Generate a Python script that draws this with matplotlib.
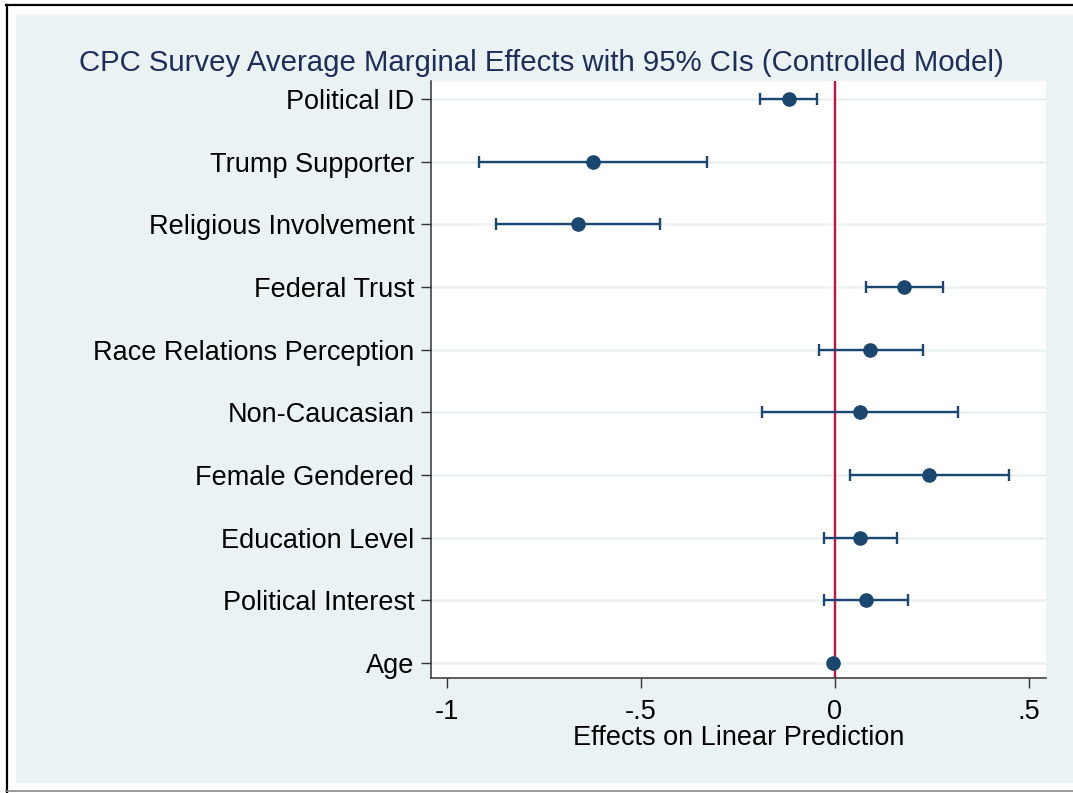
import matplotlib
matplotlib.use('Agg')
import matplotlib.pyplot as plt
from matplotlib.patches import Rectangle
from matplotlib.lines import Line2D

plt.rcParams['font.family'] = ['Liberation Sans', 'DejaVu Sans']

# data (top to bottom)
labels = ['Political ID', 'Trump Supporter', 'Religious Involvement', 'Federal Trust',
          'Race Relations Perception', 'Non-Caucasian', 'Female Gendered',
          'Education Level', 'Political Interest', 'Age']
effects = [-0.119, -0.624, -0.662, 0.178, 0.090, 0.064, 0.243, 0.066, 0.079, -0.005]
ci_low = [-0.192, -0.917, -0.874, 0.080, -0.042, -0.188, 0.039, -0.028, -0.028, -0.008]
ci_high = [-0.045, -0.329, -0.451, 0.279, 0.227, 0.316, 0.449, 0.161, 0.189, -0.002]
xticks = [-1, -0.5, 0, 0.5]
xticklabels = ['-1', '-.5', '0', '.5']

bg = '#EAF2F3'
navy = '#1A476F'
W, H = 1073, 793

fig = plt.figure(figsize=(W / 100, H / 100), dpi=100)
fig.patch.set_facecolor('white')

# stata style frame
fig.add_artist(Rectangle((16 / W, 1 - 783 / H), (W - 16) / W, (783 - 15) / H,
                         transform=fig.transFigure, facecolor=bg, edgecolor='none', zorder=-5))
fig.add_artist(Line2D([6.5 / W, 6.5 / W], [0, 1 - 5 / H], transform=fig.transFigure,
                      color='black', lw=1.6, zorder=-4))
fig.add_artist(Line2D([6 / W, 1], [1 - 5 / H, 1 - 5 / H], transform=fig.transFigure,
                      color='black', lw=1.6, zorder=-4))
fig.add_artist(Line2D([6 / W, 1], [1 - 790.5 / H, 1 - 790.5 / H], transform=fig.transFigure,
                      color='#888888', lw=1.2, zorder=-4))

ax = fig.add_axes([431 / W, 1 - 678 / H, (1046 - 431) / W, (678 - 81) / H])
ax.set_facecolor('white')

n = len(labels)
ypos = [n - i for i in range(n)]
for y in ypos:
    ax.axhline(y, color=bg, lw=1.8, zorder=1)

ax.axvline(0, color='#C8103A', lw=1.7, zorder=2)

xerr = [[e - l for e, l in zip(effects, ci_low)], [h - e for e, h in zip(effects, ci_high)]]
ax.errorbar(effects, ypos, xerr=xerr, fmt='o', color=navy, ecolor=navy, elinewidth=1.7,
            capsize=4.3, capthick=1.7, markersize=9.5, zorder=3)

ax.set_xlim(-1.0405, 0.544)
ax.set_ylim(0.76, 10.29)
ax.set_yticks(ypos)
ax.set_yticklabels(labels, fontsize=19.5)
ax.set_xticks(xticks)
ax.set_xticklabels(xticklabels, fontsize=19.5)
ax.tick_params(axis='y', length=7, width=1, color='#333333', pad=5)
ax.tick_params(axis='x', length=7, width=1, color='#333333', pad=8)
ax.set_xlabel('Effects on Linear Prediction', fontsize=19.5, labelpad=0)

for s in ['top', 'right']:
    ax.spines[s].set_visible(False)
for s in ['left', 'bottom']:
    ax.spines[s].set_color('#333333')
    ax.spines[s].set_linewidth(1.1)

fig.text(541 / W, 1 - 63 / H, 'CPC Survey Average Marginal Effects with 95% CIs (Controlled Model)',
         ha='center', va='center', fontsize=21.2, color='#1E2E5A')

fig.savefig('out.png', dpi=100, facecolor=fig.get_facecolor())
